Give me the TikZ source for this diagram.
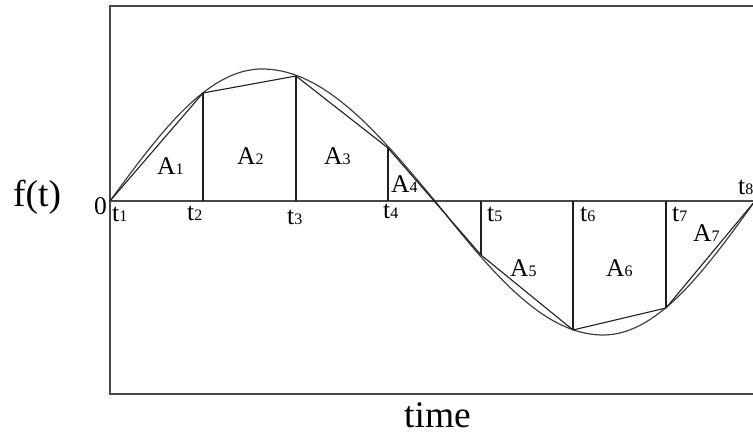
\documentclass[tikz,border=0pt]{standalone}
\usepackage{fontspec}
\setmainfont{Liberation Serif}
\newcommand\subdig[1]{{\fontsize{16}{16}\selectfont #1}}
\begin{document}
\begin{tikzpicture}[x=1pt,y=-1pt,
  lbl/.style={inner sep=0pt,anchor=base west,font=\fontsize{25.5}{30}\selectfont},
  big/.style={inner sep=0pt,anchor=base west,font=\fontsize{37.5}{42}\selectfont},
  frame/.style={line width=1.5pt,draw=black!72},
  curve/.style={line width=1.2pt,draw=black!75},
  chord/.style={line width=1.1pt,draw=black!88}]
\useasboundingbox (0,0) rectangle (753,435);
\clip (0,0) rectangle (753,435);
% frame and axis
\draw[frame] (790,6) -- (110,6) -- (110,394) -- (790,394);
\draw[frame] (110,201) -- (790,201);
% sampled points
\coordinate (v1) at (110,201);
\coordinate (v2) at (203,93);
\coordinate (v3) at (296,76);
\coordinate (v4) at (388,148);
\coordinate (v5) at (481,255);
\coordinate (v6) at (573,330);
\coordinate (v7) at (666,308);
\coordinate (v8) at (755,201);
% curve
\draw[curve] plot[domain=110:262,samples=50,variable=\x] (\x,{201-132*sin(90*(\x-110)/152)})
  -- plot[domain=262:435,samples=50,variable=\x] (\x,{201-132*cos(90*(\x-262)/173)})
  -- plot[domain=435:603,samples=50,variable=\x] (\x,{201+134*sin(90*(\x-435)/168)})
  -- plot[domain=603:755,samples=50,variable=\x] (\x,{201+134*cos(90*(\x-603)/152)});
% chords
\draw[chord] (v1) -- (v2) -- (v3) -- (v4) -- (v5) -- (v6) -- (v7) -- (v8);
\foreach \v in {v2,v3,v4,v5,v6,v7} \draw[chord] (\v) -- (\v |- v1);
% labels
\node[big] (ft) at (13,207) {f(t)};
\node[big] (time) at (404,428) {time};
\node[lbl] (zero) at (94,215) {0};
\node[lbl] (t1) at (112,222) {t\subdig{1}};
\node[lbl] (t2) at (187,221) {t\subdig{2}};
\node[lbl] (t3) at (287,225) {t\subdig{3}};
\node[lbl] (t4) at (383,219) {t\subdig{4}};
\node[lbl] (t5) at (487,222) {t\subdig{5}};
\node[lbl] (t6) at (580,222) {t\subdig{6}};
\node[lbl] (t7) at (672,222) {t\subdig{7}};
\node[lbl] (t8) at (738,195) {t\subdig{8}};
\node[lbl] (A1) at (157,175) {A\subdig{1}};
\node[lbl] (A2) at (237,165) {A\subdig{2}};
\node[lbl] (A3) at (324,165) {A\subdig{3}};
\node[lbl] (A4) at (391,193) {A\subdig{4}};
\node[lbl] (A5) at (510,277) {A\subdig{5}};
\node[lbl] (A6) at (606,277) {A\subdig{6}};
\node[lbl] (A7) at (693,242) {A\subdig{7}};
\end{tikzpicture}
\end{document}
